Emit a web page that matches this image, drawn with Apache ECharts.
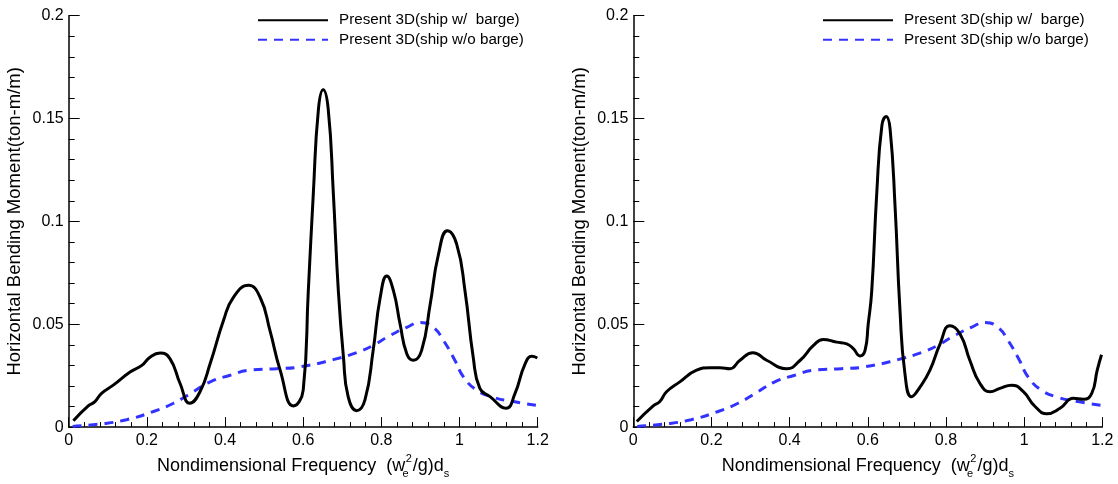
<!DOCTYPE html>
<html>
<head>
<meta charset="utf-8">
<script src="https://cdn.jsdelivr.net/npm/echarts@6/dist/echarts.min.js"></script>
<style>html,body{margin:0;padding:0;background:#fff}#c{width:1118px;height:484px}</style>
</head>
<body>
<div id="c"></div>
<script>
// ---- data ----
var seriesNames = ['Present 3D(ship w/  barge)', 'Present 3D(ship w/o barge)'];
var xTicks = [0, 0.2, 0.4, 0.6, 0.8, 1, 1.2];
var yTicks = [0, 0.05, 0.1, 0.15, 0.2];

// Left panel, ship with barge
var leftWithX = [0.012,0.050,0.067,0.084,0.114,0.157,0.187,0.208,0.234,0.259,0.285,0.310,0.336,0.362,0.396,0.421,0.460,0.490,0.515,0.541,0.575,0.600,0.613,0.626,0.639,0.651,0.664,0.677,0.690,0.703,0.715,0.737,0.758,0.779,0.797,0.814,0.831,0.848,0.865,0.882,0.903,0.925,0.946,0.969,0.993,1.014,1.035,1.052,1.078,1.119,1.142,1.168,1.185,1.199];
var leftWithY = [0.0031,0.0103,0.0124,0.0164,0.0204,0.0268,0.0300,0.0340,0.0360,0.0333,0.0212,0.0116,0.0172,0.0309,0.0518,0.0630,0.0689,0.0630,0.0469,0.0277,0.0103,0.0180,0.0660,0.1140,0.1546,0.1640,0.1546,0.1140,0.0660,0.0340,0.0148,0.0080,0.0132,0.0373,0.0630,0.0734,0.0662,0.0500,0.0357,0.0325,0.0373,0.0598,0.0839,0.0954,0.0887,0.0662,0.0340,0.0188,0.0148,0.0092,0.0164,0.0309,0.0344,0.0336];

// Right panel, ship with barge
var rightWithX = [0.009,0.051,0.068,0.085,0.119,0.162,0.196,0.222,0.247,0.273,0.306,0.341,0.393,0.427,0.461,0.486,0.520,0.546,0.563,0.580,0.593,0.601,0.610,0.623,0.636,0.647,0.657,0.670,0.682,0.695,0.712,0.734,0.759,0.785,0.810,0.836,0.861,0.887,0.913,0.938,0.968,0.998,1.028,1.058,1.092,1.126,1.152,1.173,1.187,1.198];
var rightWithY = [0.0027,0.0103,0.0124,0.0172,0.0220,0.0277,0.0289,0.0289,0.0284,0.0325,0.0362,0.0325,0.0284,0.0325,0.0397,0.0426,0.0413,0.0405,0.0381,0.0346,0.0373,0.0500,0.0660,0.1140,0.1465,0.1510,0.1450,0.1064,0.0580,0.0260,0.0148,0.0196,0.0277,0.0405,0.0493,0.0453,0.0325,0.0212,0.0172,0.0188,0.0204,0.0172,0.0100,0.0065,0.0092,0.0140,0.0135,0.0164,0.0277,0.0352];

// Ship without barge (same in both panels)
var withoutX = [0.010,0.080,0.148,0.217,0.268,0.319,0.362,0.413,0.464,0.532,0.592,0.677,0.737,0.779,0.822,0.865,0.900,0.933,0.959,0.988,1.010,1.044,1.086,1.138,1.200];
var withoutY = [0.0003,0.0015,0.0036,0.0076,0.0116,0.0172,0.0220,0.0252,0.0277,0.0284,0.0293,0.0328,0.0362,0.0397,0.0445,0.0485,0.0509,0.0485,0.0421,0.0325,0.0244,0.0180,0.0145,0.0124,0.0105];

function pairs(xs, ys){ return xs.map(function(x,i){ return [x, ys[i]]; }); }

var FONT = 'Liberation Sans, Arial, sans-serif';
var BLUE = '#3333ff';

function xAxis(idx){
  return {
    type:'value', gridIndex: idx, min: xTicks[0], max: xTicks[xTicks.length-1], interval: 0.2,
    name: 'Nondimensional Frequency  (w{e|e}{s|2}/g)d{d|s}',
    nameLocation:'middle', nameGap: 25,
    nameTextStyle:{ fontFamily: FONT, fontSize: 18, color:'#000', lineHeight: 26,
      rich:{
        e:{ fontFamily: FONT, fontSize: 11, color:'#000', verticalAlign:'bottom', width: 0.5, lineHeight: 26 },
        s:{ fontFamily: FONT, fontSize: 11, color:'#000', verticalAlign:'top', lineHeight: 26, padding:[0,1,0,0] },
        d:{ fontFamily: FONT, fontSize: 11, color:'#000', verticalAlign:'bottom', lineHeight: 26 }
      }},
    axisLine:{ show:true, onZero:false, lineStyle:{ color:'#000', width:1.5 } },
    axisTick:{ show:true, inside:true, length:10, lineStyle:{ color:'#000', width:1 } },
    minorTick:{ show:true, splitNumber:5, length:5, lineStyle:{ color:'#000', width:1 } },
    axisLabel:{ fontFamily: FONT, fontSize: 16, color:'#000', margin: 5 },
    splitLine:{ show:false }
  };
}
function yAxis(idx){
  return {
    type:'value', gridIndex: idx, min: yTicks[0], max: yTicks[yTicks.length-1], interval: 0.05,
    name:'Horizontal Bending Moment(ton-m/m)', nameLocation:'middle', nameGap: 44,
    nameTextStyle:{ fontFamily: FONT, fontSize: 18.5, color:'#000' },
    axisLine:{ show:true, onZero:false, lineStyle:{ color:'#000', width:1.5 } },
    axisTick:{ show:true, inside:true, length:11, lineStyle:{ color:'#000', width:1 } },
    minorTick:{ show:true, splitNumber:5, length:6, lineStyle:{ color:'#000', width:1 } },
    axisLabel:{ fontFamily: FONT, fontSize: 16, color:'#000', margin: 5 },
    splitLine:{ show:false }
  };
}
function withSeries(idx, data){
  return { name: seriesNames[0], type:'line', xAxisIndex: idx, yAxisIndex: idx, data: data,
    smooth: 0.5, showSymbol:false, symbol:'none', lineStyle:{ color:'#000', width:3 }, itemStyle:{color:'#000'}, z:3 };
}
function withoutSeries(idx, data){
  return { name: seriesNames[1], type:'line', xAxisIndex: idx, yAxisIndex: idx, data: data,
    smooth: 0.5, showSymbol:false, symbol:'none', lineStyle:{ color: BLUE, width:3, type:[9,7] }, itemStyle:{color:BLUE}, z:2 };
}
function legend(left){
  return { left: left, top: 12.7, padding: 0, orient:'vertical', itemWidth: 70, itemHeight: 14, itemGap: 4.6,
    data: seriesNames, selectedMode:false,
    itemStyle:{ opacity: 0, borderWidth: 0 },
    textStyle:{ fontFamily: FONT, fontSize: 15.2, color:'#000', padding:[0,0,0,6], lineHeight:14 } };
}

var chart = echarts.init(document.getElementById('c'), null, { renderer:'canvas' });
chart.setOption({
  animation:false,
  backgroundColor:'#fff',
  grid:[ { left: 68.7, top: 15.7, width: 469, height: 415 },
         { left: 633.3, top: 15.7, width: 469, height: 415 } ],
  xAxis:[ xAxis(0), xAxis(1) ],
  yAxis:[ yAxis(0), yAxis(1) ],
  legend:[ legend(257), legend(822) ],
  series:[
    withoutSeries(0, pairs(withoutX, withoutY)),
    withSeries(0, pairs(leftWithX, leftWithY)),
    withoutSeries(1, pairs(withoutX, withoutY)),
    withSeries(1, pairs(rightWithX, rightWithY))
  ]
});
</script>
</body>
</html>
